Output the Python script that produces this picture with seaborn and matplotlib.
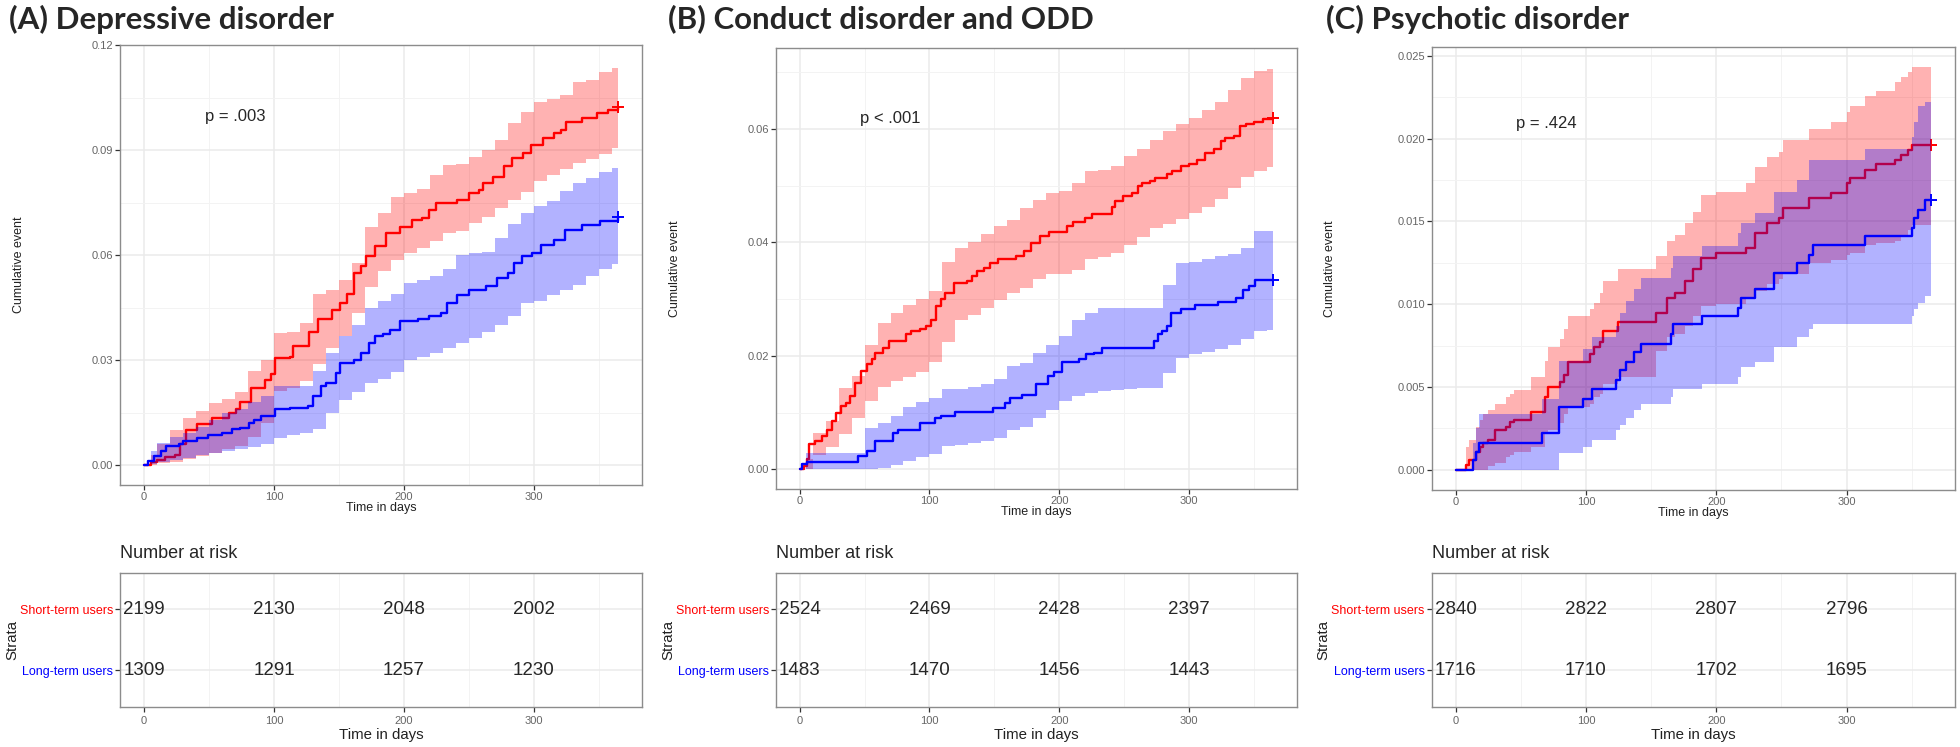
import matplotlib
matplotlib.use("Agg")
import matplotlib.pyplot as plt
import seaborn as sns

W, H = 1960, 747

# ---------------- data ----------------
titles = ["(A) Depressive disorder", "(B) Conduct disorder and ODD", "(C) Psychotic disorder"]
p_labels = ["p = .003", "p < .001", "p = .424"]
strata = ["Long-term users", "Short-term users"]
risk_times = [0, 100, 200, 300]

# Panel A
a_red_t = [0, 5, 10, 16, 24, 28, 32, 41, 52, 65, 71, 74, 82, 93, 98, 101, 112, 115, 127, 134, 145, 151, 156,
           162, 167, 171, 178, 186, 197, 206, 214, 219, 225, 241, 250, 258, 261, 269, 277, 283, 292, 298, 307,
           316, 321, 325, 337, 349, 357, 365]
a_red_v = [0, 0.0008, 0.0015, 0.0022, 0.003, 0.006, 0.010, 0.0116, 0.0135, 0.015, 0.016, 0.018, 0.022, 0.0244,
           0.026, 0.0306, 0.031, 0.034, 0.038, 0.0416, 0.0444, 0.0463, 0.049, 0.055, 0.0568, 0.0596, 0.0625,
           0.0663, 0.068, 0.070, 0.0706, 0.073, 0.075, 0.0758, 0.0777, 0.0786, 0.0805, 0.0824, 0.0853, 0.0877,
           0.0891, 0.0915, 0.0934, 0.0948, 0.0958, 0.0981, 0.0991, 0.1005, 0.1015, 0.1024]
a_ci_t = [0, 5, 10, 20, 30, 40, 50, 60, 70, 80, 90, 100, 110, 120, 130, 140, 150, 160, 170, 180, 190, 200,
          210, 220, 230, 240, 250, 260, 270, 280, 290, 300, 310, 320, 330, 340, 350, 360, 365]
a_red_hi = [0, 0.003, 0.006, 0.010, 0.0135, 0.0155, 0.0178, 0.019, 0.021, 0.027, 0.030, 0.0378, 0.038, 0.0406,
            0.049, 0.050, 0.053, 0.0577, 0.068, 0.072, 0.0765, 0.0777, 0.079, 0.083, 0.0858, 0.086, 0.088, 0.090,
            0.093, 0.0977, 0.101, 0.1038, 0.1045, 0.1057, 0.1095, 0.110, 0.1124, 0.1135, 0.1143]
a_red_lo = [0, 0, 0.0005, 0.001, 0.0016, 0.0025, 0.0035, 0.0045, 0.0054, 0.008, 0.012, 0.0211, 0.022, 0.024,
            0.029, 0.0335, 0.0368, 0.0435, 0.051, 0.0555, 0.0585, 0.0606, 0.062, 0.064, 0.0663, 0.067, 0.0691,
            0.071, 0.0735, 0.0758, 0.078, 0.0812, 0.0829, 0.0845, 0.0862, 0.0875, 0.089, 0.0905, 0.0905]
a_blue_t = [0, 3, 8, 13, 17, 27, 30, 41, 49, 60, 68, 74, 81, 85, 90, 101, 112, 126, 130, 136, 140, 148, 151,
            162, 167, 173, 178, 184, 189, 197, 211, 219, 229, 233, 241, 250, 263, 272, 280, 285, 291, 299, 306,
            316, 324, 337, 351, 365]
a_blue_v = [0, 0.0012, 0.0026, 0.004, 0.0054, 0.0059, 0.0068, 0.0078, 0.0087, 0.0092, 0.0102, 0.0106, 0.0121,
            0.013, 0.014, 0.0159, 0.0164, 0.0168, 0.0197, 0.0225, 0.0235, 0.0263, 0.0292, 0.0301, 0.032, 0.0349,
            0.0368, 0.0373, 0.0387, 0.0411, 0.0416, 0.0425, 0.0435, 0.0463, 0.0487, 0.0501, 0.0511, 0.0534,
            0.0549, 0.0577, 0.0596, 0.0606, 0.063, 0.0644, 0.0672, 0.0687, 0.0696, 0.071]
a_blue_hi = [0, 0.004, 0.0064, 0.008, 0.0092, 0.011, 0.013, 0.0149, 0.016, 0.018, 0.0197, 0.0225, 0.0225,
             0.0225, 0.027, 0.032, 0.0368, 0.040, 0.0449, 0.047, 0.049, 0.052, 0.053, 0.054, 0.056, 0.0601,
             0.0605, 0.061, 0.065, 0.069, 0.072, 0.0739, 0.0753, 0.0782, 0.0805, 0.082, 0.0838, 0.0848, 0.0848]
a_blue_lo = [0, 0.0003, 0.0008, 0.0015, 0.0021, 0.0028, 0.0034, 0.004, 0.0045, 0.0052, 0.0059, 0.0078, 0.0085,
             0.0092, 0.0102, 0.0149, 0.0187, 0.021, 0.0235, 0.0245, 0.0265, 0.0301, 0.031, 0.032, 0.0335, 0.035,
             0.0363, 0.038, 0.040, 0.0425, 0.0463, 0.047, 0.0485, 0.050, 0.0515, 0.0539, 0.056, 0.0575, 0.0582]

# Panel B
b_red_t = [0, 3, 6, 7, 12, 17, 21, 25, 28, 32, 36, 39, 43, 47, 52, 56, 58, 64, 69, 82, 86, 93, 97, 101, 105,
           109, 112, 119, 129, 133, 137, 142, 147, 153, 167, 173, 178, 185, 192, 206, 211, 220, 225, 241, 243,
           249, 256, 261, 264, 270, 274, 283, 287, 294, 300, 306, 312, 319, 325, 328, 335, 339, 344, 350, 357, 365]
b_red_v = [0, 0.0006, 0.0018, 0.0044, 0.005, 0.0059, 0.007, 0.0085, 0.01, 0.0112, 0.0117, 0.0129, 0.0153,
           0.0173, 0.0185, 0.0194, 0.0205, 0.0214, 0.0226, 0.0238, 0.0244, 0.0247, 0.0252, 0.0264, 0.0288, 0.03,
           0.0311, 0.0329, 0.0332, 0.034, 0.0349, 0.0355, 0.0364, 0.037, 0.0376, 0.0385, 0.0399, 0.0411, 0.0418,
           0.0429, 0.0436, 0.0443, 0.045, 0.0462, 0.0473, 0.0481, 0.0487, 0.0499, 0.0505, 0.0508, 0.0514, 0.052,
           0.0525, 0.0535, 0.0539, 0.0546, 0.0558, 0.0564, 0.0578, 0.0584, 0.0588, 0.0605, 0.0609, 0.0613,
           0.0618, 0.0619]
b_ci_t = a_ci_t
b_red_hi = [0, 0.0018, 0.0065, 0.0085, 0.0144, 0.0164, 0.022, 0.0258, 0.0276, 0.029, 0.030, 0.0315, 0.0365,
            0.039, 0.040, 0.0415, 0.0429, 0.044, 0.046, 0.0475, 0.0487, 0.049, 0.0505, 0.0525, 0.0528, 0.0535,
            0.0552, 0.0565, 0.058, 0.0596, 0.0608, 0.0619, 0.0634, 0.0648, 0.0668, 0.069, 0.0702, 0.0706, 0.0707]
b_red_lo = [0, 0, 0.0025, 0.004, 0.0062, 0.009, 0.012, 0.0145, 0.0155, 0.0162, 0.0172, 0.019, 0.0225, 0.0264,
            0.0272, 0.0285, 0.0299, 0.031, 0.032, 0.0336, 0.0344, 0.0345, 0.0352, 0.037, 0.0375, 0.0382, 0.0395,
            0.041, 0.0425, 0.0433, 0.0442, 0.0452, 0.0463, 0.0476, 0.0495, 0.0515, 0.0526, 0.0532, 0.0534]
b_blue_t = [0, 2, 6, 45, 52, 58, 72, 76, 93, 104, 109, 120, 149, 158, 162, 171, 182, 191, 196, 202, 215, 221,
            227, 233, 273, 276, 279, 283, 286, 294, 305, 322, 336, 342, 346, 351, 365]
b_blue_v = [0, 0.0009, 0.0013, 0.0023, 0.0032, 0.005, 0.0065, 0.007, 0.0082, 0.0091, 0.0095, 0.0101, 0.0109,
            0.0117, 0.0126, 0.0132, 0.0151, 0.0164, 0.0171, 0.0189, 0.0195, 0.0203, 0.0205, 0.0214, 0.0226,
            0.0238, 0.0244, 0.0252, 0.0276, 0.0283, 0.0289, 0.0295, 0.0302, 0.0317, 0.0323, 0.0333, 0.0333]
b_blue_hi = [0, 0.0029, 0.0029, 0.0029, 0.0029, 0.0029, 0.0073, 0.0082, 0.0095, 0.011, 0.0118, 0.0126, 0.0141,
             0.0141, 0.0145, 0.015, 0.0159, 0.0182, 0.0187, 0.0205, 0.022, 0.0235, 0.0264, 0.0276, 0.0285, 0.0285,
             0.0285, 0.0285, 0.0285, 0.0325, 0.0364, 0.0366, 0.037, 0.0376, 0.038, 0.039, 0.042, 0.042, 0.042]
b_blue_lo = [0, 0, 0, 0, 0, 0, 0, 0.0003, 0.0008, 0.0015, 0.0022, 0.0028, 0.0041, 0.0043, 0.0046, 0.005, 0.0056,
             0.007, 0.0075, 0.009, 0.0105, 0.012, 0.013, 0.0135, 0.0138, 0.014, 0.0142, 0.0143, 0.0144, 0.017,
             0.0197, 0.0203, 0.0207, 0.0212, 0.022, 0.023, 0.0244, 0.0245, 0.0245]

# Panel C
c_red_t = [0, 8, 10, 16, 19, 21, 25, 30, 39, 42, 45, 58, 69, 71, 80, 83, 86, 103, 106, 111, 113, 125, 154, 162,
           168, 176, 182, 188, 200, 223, 230, 239, 248, 251, 271, 288, 300, 303, 314, 323, 337, 342, 347, 350, 365]
c_red_v = [0, 0.0003, 0.0006, 0.0011, 0.0014, 0.0016, 0.0018, 0.0024, 0.0026, 0.0029, 0.003, 0.0035, 0.0044,
           0.005, 0.0053, 0.0057, 0.0065, 0.007, 0.0074, 0.0077, 0.0084, 0.0089, 0.0095, 0.0104, 0.0107, 0.0114,
           0.0121, 0.0128, 0.0131, 0.0134, 0.0143, 0.0149, 0.0152, 0.0158, 0.0164, 0.0167, 0.0173, 0.0176,
           0.0181, 0.0185, 0.0187, 0.019, 0.0193, 0.0196, 0.0196]
c_red_hi = [0, 0.0014, 0.0018, 0.0026, 0.003, 0.0034, 0.0036, 0.004, 0.0044, 0.0046, 0.0048, 0.0056, 0.0066,
            0.0074, 0.0079, 0.0085, 0.0093, 0.0097, 0.0101, 0.0107, 0.0114, 0.0121, 0.0129, 0.0138, 0.0142,
            0.0149, 0.0156, 0.0166, 0.0168, 0.0173, 0.0183, 0.0189, 0.0192, 0.0199, 0.0206, 0.021, 0.0216, 0.022,
            0.0226, 0.0229, 0.0234, 0.0237, 0.024, 0.0243, 0.0243]
c_red_lo = [0, 0, 0, 0, 0, 0, 0.0002, 0.0004, 0.0008, 0.0009, 0.0011, 0.0014, 0.0022, 0.0024, 0.0028, 0.0034,
            0.0038, 0.004, 0.0044, 0.0046, 0.0052, 0.0056, 0.0072, 0.008, 0.0082, 0.0087, 0.0093, 0.0099, 0.01,
            0.0103, 0.0108, 0.0112, 0.0115, 0.0118, 0.0125, 0.0127, 0.013, 0.0131, 0.0136, 0.0137, 0.0138,
            0.0141, 0.0145, 0.0148, 0.015]
c_blue_t = [0, 13, 16, 18, 66, 79, 98, 105, 123, 126, 131, 137, 142, 165, 167, 189, 217, 219, 230, 244, 262,
            271, 274, 314, 350, 352, 355, 360, 365]
c_blue_v = [0, 0.0006, 0.0011, 0.0016, 0.0022, 0.0038, 0.0043, 0.0049, 0.0054, 0.006, 0.0065, 0.0071, 0.0076,
            0.0082, 0.0088, 0.0093, 0.0098, 0.0104, 0.0109, 0.0119, 0.0125, 0.013, 0.0136, 0.0141, 0.0146,
            0.0152, 0.0157, 0.0163, 0.0163]
c_blue_hi = [0, 0.0016, 0.0025, 0.0034, 0.0043, 0.0066, 0.0073, 0.008, 0.0087, 0.0095, 0.0102, 0.0109, 0.0116,
             0.0122, 0.0129, 0.0135, 0.0143, 0.0149, 0.0155, 0.0168, 0.0175, 0.0187, 0.0187, 0.0194, 0.0201,
             0.021, 0.022, 0.0222, 0.0222]
c_blue_lo = [0, 0, 0, 0, 0, 0.001, 0.0014, 0.0018, 0.0024, 0.0027, 0.0031, 0.0036, 0.004, 0.0044, 0.0049,
             0.0052, 0.0056, 0.0062, 0.0065, 0.0074, 0.008, 0.0085, 0.0088, 0.0088, 0.0093, 0.0097, 0.0101,
             0.0105, 0.0105]

# number at risk
a_risk_short = [2199, 2130, 2048, 2002]
a_risk_long = [1309, 1291, 1257, 1230]
b_risk_short = [2524, 2469, 2428, 2397]
b_risk_long = [1483, 1470, 1456, 1443]
c_risk_short = [2840, 2822, 2807, 2796]
c_risk_long = [1716, 1710, 1702, 1695]

# y axes
a_yticks = [0, 0.03, 0.06, 0.09, 0.12]
b_yticks = [0, 0.02, 0.04, 0.06]
c_yticks = [0, 0.005, 0.010, 0.015, 0.020, 0.025]


def fx(px):
    return px / W


def fy(py):
    return 1 - py / H


def style_axes(ax):
    for s in ax.spines.values():
        s.set_visible(True)
        s.set_color("#8C8C8C")
        s.set_linewidth(1.0)
    ax.grid(True, which="major", color="#EBEBEB", lw=1.1)
    ax.grid(True, which="minor", color="#F3F3F3", lw=0.7)
    ax.set_axisbelow(True)
    ax.tick_params(which="major", bottom=True, left=True, length=3.5, width=0.9,
                   color="#333333", labelsize=8, labelcolor="#666666", pad=1.5)
    ax.tick_params(which="minor", length=0)
    ax.set_xlim(-18.25, 383.25)
    ax.set_xticks(risk_times)
    ax.set_xticks([50, 150, 250, 350], minor=True)


def plot_curves(ax, curves, yticks, fmt, ylim, ptext, py):
    style_axes(ax)
    z = 1
    for t, v, t_ci, lo, hi, color in curves:
        ax.fill_between(t_ci, lo, hi, step="post", color=color, alpha=0.3, lw=0, zorder=z)
        sns.lineplot(x=t, y=v, ax=ax, color=color, lw=1.7, drawstyle="steps-post",
                     estimator=None, sort=False, zorder=z + 1)
        ax.plot(t[-1], v[-1], marker="+", color=color, ms=8, mew=1.4, zorder=z + 1)
        z += 2
    ax.set_yticks(yticks)
    ax.set_yticklabels([fmt.format(y) for y in yticks])
    minor = [(yticks[i] + yticks[i + 1]) / 2 for i in range(len(yticks) - 1)]
    minor.append(yticks[-1] + (yticks[1] - yticks[0]) / 2)
    ax.set_yticks(minor, minor=True)
    ax.set_ylim(*ylim)
    ax.text(70, py, ptext, ha="center", va="center", fontsize=12)
    ax.set_xlabel("Time in days", fontsize=9, color="#222222")
    ax.xaxis.set_label_coords(0.5, -0.052)
    ax.xaxis.label.set_va("center")
    ax.set_ylabel("Cumulative event", fontsize=9, color="#222222")
    ax.yaxis.set_label_coords(-101 / 521, 0.5)
    ax.yaxis.label.set_va("center")


def plot_risk(ax, short, long):
    style_axes(ax)
    ax.set_ylim(0.4, 2.6)
    ax.set_yticks([1, 2])
    ax.set_yticklabels(strata, fontsize=9)
    ax.get_yticklabels()[0].set_color("blue")
    ax.get_yticklabels()[1].set_color("red")
    ax.tick_params(axis="y", pad=1.5)
    ax.tick_params(axis="x", pad=3)
    for t, s, l in zip(risk_times, short, long):
        ax.text(t, 2, str(s), ha="center", va="center", fontsize=13.5)
        ax.text(t, 1, str(l), ha="center", va="center", fontsize=13.5)
    ax.set_xlabel("Time in days", fontsize=10.8, color="#222222")
    ax.xaxis.set_label_coords(0.5, -0.211)
    ax.xaxis.label.set_va("center")
    ax.set_ylabel("Strata", fontsize=10.8, color="#222222")
    ax.yaxis.set_label_coords(-108 / 521, 0.5)
    ax.yaxis.label.set_va("center")
    ax.text(0, 1.14, "Number at risk", transform=ax.transAxes, ha="left", va="center", fontsize=13)


sns.set_style("whitegrid")
plt.rcParams["font.family"] = ["Liberation Sans", "DejaVu Sans"]

fig = plt.figure(figsize=(W / 100, H / 100), dpi=100)

# main axes boxes in pixels: left, top, right, bottom
main_boxes = [(120.4, 45, 641.8, 485), (776, 48.3, 1297, 489.3), (1431.8, 47.3, 1955, 490)]
risk_top, risk_bottom = 572.7, 706.7
title_x = [9, 668, 1326]

panels = [
    ([(a_red_t, a_red_v, a_ci_t, a_red_lo, a_red_hi, "red"),
      (a_blue_t, a_blue_v, a_ci_t, a_blue_lo, a_blue_hi, "blue")],
     a_yticks, "{:.2f}", (-0.0057, 0.12), 0.0996, a_risk_short, a_risk_long),
    ([(b_red_t, b_red_v, b_ci_t, b_red_lo, b_red_hi, "red"),
      (b_blue_t, b_blue_v, b_ci_t, b_blue_lo, b_blue_hi, "blue")],
     b_yticks, "{:.2f}", (-0.0035, 0.0742), 0.0619, b_risk_short, b_risk_long),
    ([(c_red_t, c_red_v, c_red_t, c_red_lo, c_red_hi, "red"),
      (c_blue_t, c_blue_v, c_blue_t, c_blue_lo, c_blue_hi, "blue")],
     c_yticks, "{:.3f}", (-0.00122, 0.02552), 0.0209, c_risk_short, c_risk_long),
]

for i, (curves, yticks, fmt, ylim, py, short, long) in enumerate(panels):
    l, t, r, b = main_boxes[i]
    ax = fig.add_axes([fx(l), fy(b), (r - l) / W, (b - t) / H])
    plot_curves(ax, curves, yticks, fmt, ylim, p_labels[i], py)
    rax = fig.add_axes([fx(l), fy(risk_bottom), (r - l) / W, (risk_bottom - risk_top) / H])
    plot_risk(rax, short, long)
    fig.text(fx(title_x[i]), fy(19), titles[i], fontsize=22.5, fontweight="bold",
             family=["Lato", "DejaVu Sans"], ha="left", va="center")

fig.savefig("out.png", dpi=100)
plt.close(fig)
